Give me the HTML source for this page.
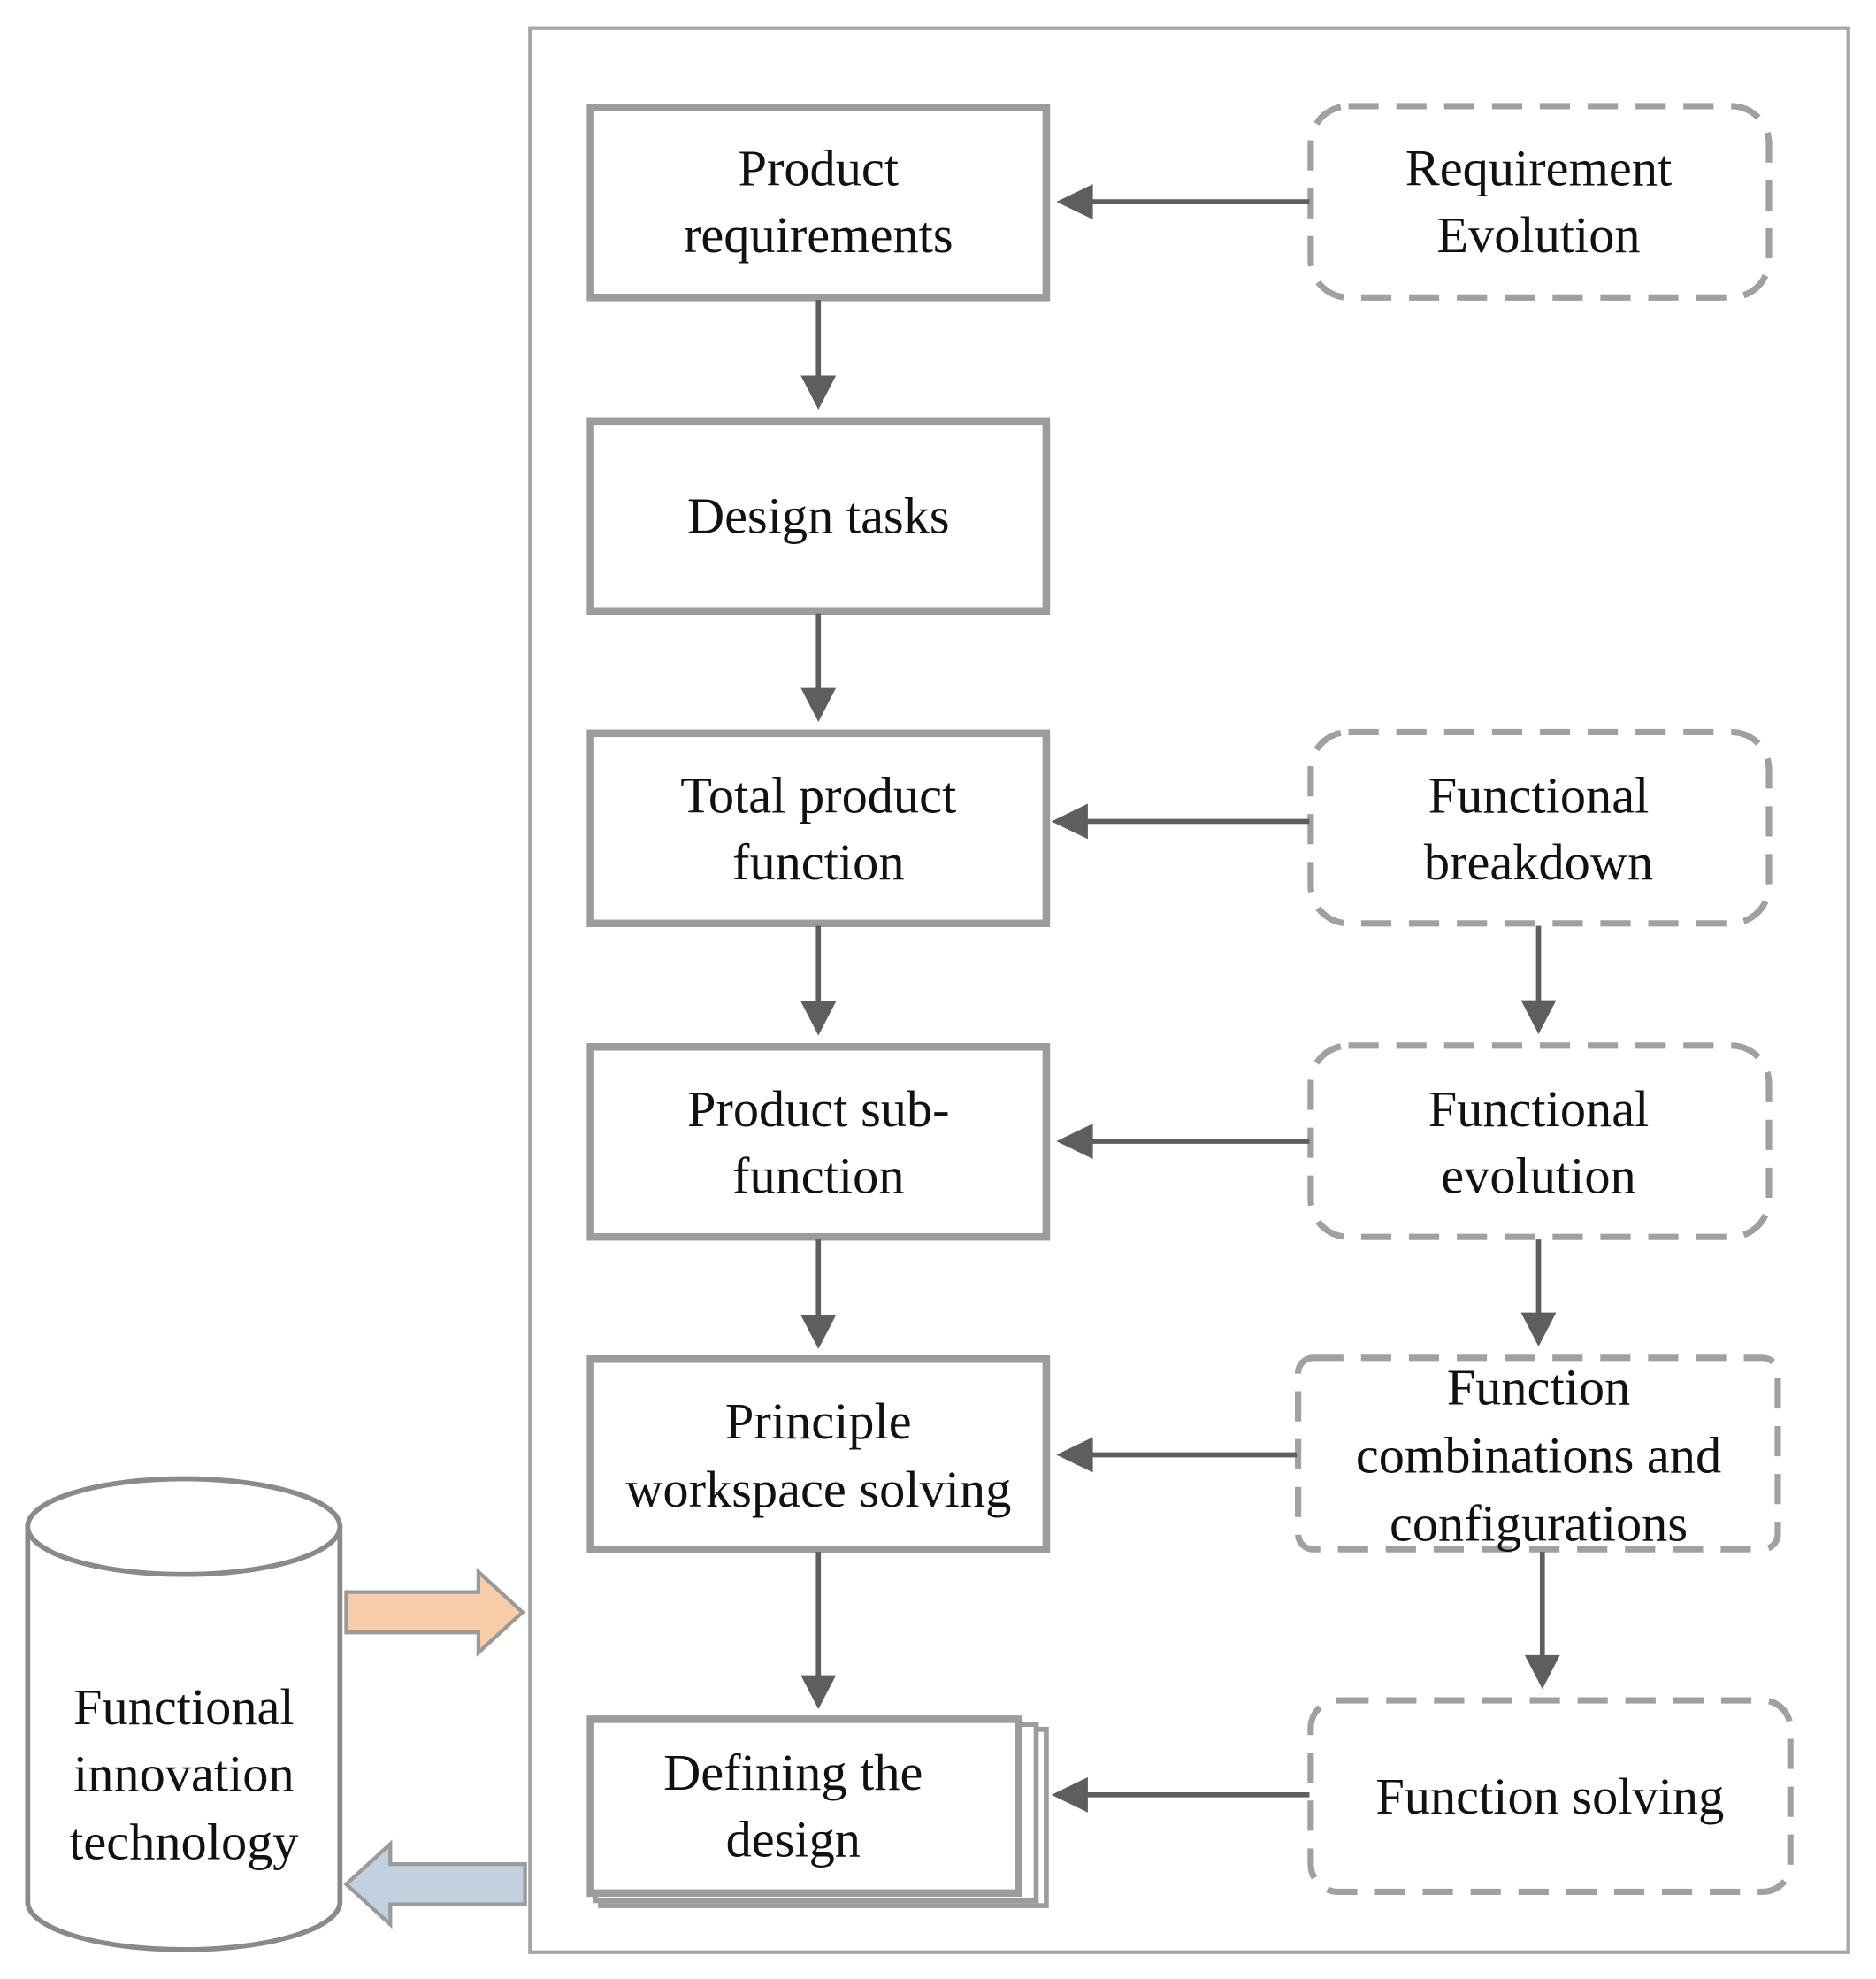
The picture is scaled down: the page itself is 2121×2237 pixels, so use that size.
<!DOCTYPE html>
<html><head><meta charset="utf-8"><style>html,body{margin:0;padding:0;background:#fff}svg{display:block}</style></head>
<body>
<svg width="2121" height="2237" viewBox="0 0 1490 1571" xmlns="http://www.w3.org/2000/svg" font-family="Liberation Serif, serif" font-size="41" fill="#111">
<rect x="421" y="22" width="1047" height="1528" fill="none" stroke="#a6a6a6" stroke-width="3"/>
<g fill="#fff" stroke="#9c9c9c" stroke-width="6">
<rect x="469" y="85" width="362" height="151"/>
<rect x="469" y="334" width="362" height="151"/>
<rect x="469" y="582" width="362" height="151"/>
<rect x="469" y="831" width="362" height="151"/>
<rect x="469" y="1079" width="362" height="151"/>
<rect x="477" y="1373" width="354" height="140" stroke-width="4"/>
<rect x="473" y="1369" width="350" height="140" stroke-width="4"/>
<rect x="469" y="1365" width="340" height="138"/>
</g>
<g fill="none" stroke="#a0a0a0" stroke-width="5" stroke-dasharray="24,14">
<rect x="1041" y="84" width="364" height="152" rx="30"/>
<rect x="1041" y="581" width="364" height="152" rx="30"/>
<rect x="1041" y="830" width="364" height="152" rx="30"/>
<rect x="1031" y="1078" width="381" height="152" rx="12"/>
<rect x="1041" y="1350" width="381" height="152" rx="22"/>
</g>
<g stroke="#5e5e5e" stroke-width="4" fill="none">
<path d="M650 238 V300"/>
<path d="M650 487 V548"/>
<path d="M650 735 V797"/>
<path d="M650 984 V1046"/>
<path d="M650 1232 V1332"/>
<path d="M1040 160 H866"/>
<path d="M1040 652 H862"/>
<path d="M1040 906 H866"/>
<path d="M1030 1155 H866"/>
<path d="M1040 1425 H862"/>
<path d="M1222 735 V796"/>
<path d="M1222 984 V1044"/>
<path d="M1225 1232 V1316"/>
</g>
<g fill="#5e5e5e">
<path d="M636 298 H664 L650 325 z"/><path d="M636 546 H664 L650 573 z"/><path d="M636 795 H664 L650 822 z"/><path d="M636 1044 H664 L650 1071 z"/><path d="M636 1330 H664 L650 1357 z"/>
<path d="M868 146 V174 L839 160 z"/><path d="M864 638 V666 L835 652 z"/><path d="M868 892 V920 L839 906 z"/><path d="M868 1141 V1169 L839 1155 z"/><path d="M864 1411 V1439 L835 1425 z"/>
<path d="M1208 794 H1236 L1222 821 z"/><path d="M1208 1042 H1236 L1222 1069 z"/><path d="M1211 1314 H1239 L1225 1341 z"/>
</g>
<path d="M22 1210 V1510 A124 38 0 0 0 270 1510 V1210" fill="#fff" stroke="#8a8a8a" stroke-width="4"/>
<ellipse cx="146" cy="1212" rx="124" ry="38" fill="#fff" stroke="#8a8a8a" stroke-width="4"/>
<path d="M275 1264 H380 V1248 L415 1280 L380 1312 V1296 H275 z" fill="#f8cda9" stroke="#9a9a9a" stroke-width="3"/>
<path d="M417 1480 H310 V1464 L275 1496 L310 1528 V1512 H417 z" fill="#c2d0e0" stroke="#9a9a9a" stroke-width="3"/>
<g text-anchor="middle">
<text x="650" y="147">Product</text><text x="650" y="200">requirements</text>
<text x="650" y="423">Design tasks</text>
<text x="650" y="645">Total product</text><text x="650" y="698">function</text>
<text x="650" y="894">Product sub-</text><text x="650" y="947">function</text>
<text x="650" y="1142">Principle</text><text x="650" y="1196">workspace solving</text>
<text x="630" y="1421">Defining the</text><text x="630" y="1474">design</text>
<text x="1222" y="147">Requirement</text><text x="1222" y="200">Evolution</text>
<text x="1222" y="645">Functional</text><text x="1222" y="698">breakdown</text>
<text x="1222" y="894">Functional</text><text x="1222" y="947">evolution</text>
<text x="1222" y="1115">Function</text><text x="1222" y="1169">combinations and</text><text x="1222" y="1223">configurations</text>
<text x="1231" y="1440">Function solving</text>
<text x="146" y="1369">Functional</text><text x="146" y="1422">innovation</text><text x="146" y="1476">technology</text>
</g>
</svg>
</body></html>
